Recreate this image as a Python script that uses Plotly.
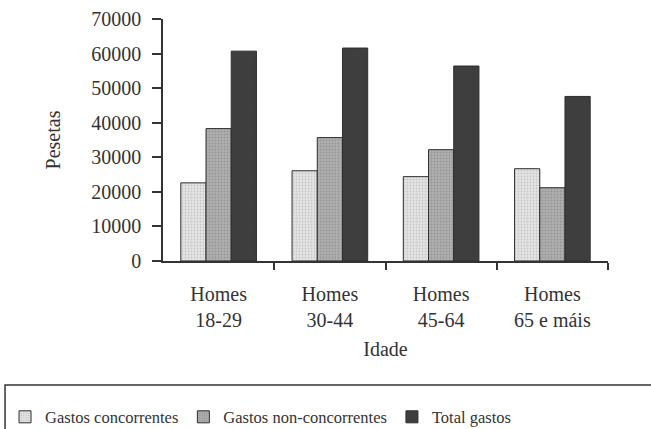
import plotly.graph_objects as go

categories = ["Homes<br>18-29", "Homes<br>30-44", "Homes<br>45-64", "Homes<br>65 e máis"]
series_names = ["Gastos concorrentes", "Gastos non-concorrentes", "Total gastos"]
gastos_concorrentes = [22600, 26100, 24400, 26700]
gastos_non_concorrentes = [38300, 35700, 32200, 21200]
total_gastos = [60700, 61600, 56400, 47600]
y_ticks = [0, 10000, 20000, 30000, 40000, 50000, 60000, 70000]

FONT = "Liberation Serif"
TXT = "#333333"

x_pos = list(range(len(categories)))
boundaries = [i + 0.5 for i in x_pos]

styles = [
    dict(bg="#e4e4e4", fg="#a8a8a8"),
    dict(bg="#b0b0b0", fg="#787878"),
    dict(bg="#3e3e3e", fg="#3e3e3e"),
]

fig = go.Figure()
for name, vals, st in zip(series_names, [gastos_concorrentes, gastos_non_concorrentes, total_gastos], styles):
    fig.add_trace(go.Bar(
        x=x_pos, y=vals, name=name,
        marker=dict(
            color=st["bg"],
            line=dict(color="#2e2e2e", width=1),
            pattern=dict(shape=".", fgcolor=st["fg"], bgcolor=st["bg"], size=3, solidity=0.3, fillmode="overlay"),
        ),
    ))

fig.update_layout(
    width=651, height=429,
    margin=dict(l=163, r=43, t=19, b=168, autoexpand=False),
    paper_bgcolor="white", plot_bgcolor="white",
    barmode="group", bargap=0.32, bargroupgap=0,
    font=dict(family=FONT, size=20, color=TXT),
    showlegend=True,
    legend=dict(
        orientation="h",
        x=-0.355, xanchor="left", y=-0.645, yanchor="middle",
        font=dict(family=FONT, size=16.5, color=TXT),
        bgcolor="rgba(0,0,0,0)", borderwidth=0,
        itemwidth=30, traceorder="normal",
    ),
    xaxis=dict(
        range=[-0.5, 3.5], tickvals=x_pos, ticktext=categories,
        ticks="", showgrid=False, zeroline=False,
        showline=True, linecolor="#333333", linewidth=1.5,
        tickfont=dict(family=FONT, size=20, color=TXT),
        ticklabelstandoff=14,
        minor=dict(tickvals=boundaries, ticks="outside", ticklen=7, tickcolor="#333333", tickwidth=1.5),
        title=dict(text="Idade", font=dict(family=FONT, size=20, color=TXT), standoff=12),
    ),
    xaxis2=dict(
        range=[-0.5, 3.5], overlaying="x", anchor="y", side="bottom",
        tickvals=boundaries, ticks="inside", ticklen=6, tickcolor="#333333", tickwidth=1.5,
        showticklabels=False, showgrid=False, zeroline=False, showline=False,
    ),
    yaxis=dict(
        range=[0, 70000], tickvals=y_ticks, ticktext=[str(v) for v in y_ticks],
        ticks="outside", ticklen=9, tickcolor="#333333", tickwidth=1.5,
        showgrid=False, zeroline=False,
        showline=True, linecolor="#333333", linewidth=1.5,
        tickfont=dict(family=FONT, size=20, color=TXT),
        ticklabelstandoff=7,
        title=dict(text="Pesetas", font=dict(family=FONT, size=20, color=TXT), standoff=25),
    ),
    shapes=[dict(
        type="rect", xref="paper", yref="paper",
        x0=-0.355, x1=1.12, y0=-0.512, y1=-0.76,
        line=dict(color="#333333", width=1.5), fillcolor="rgba(0,0,0,0)", layer="below",
    )],
)

fig.write_html(
    "out.html",
    config={"displayModeBar": False},
    post_script="document.body.style.margin='0px';",
)
